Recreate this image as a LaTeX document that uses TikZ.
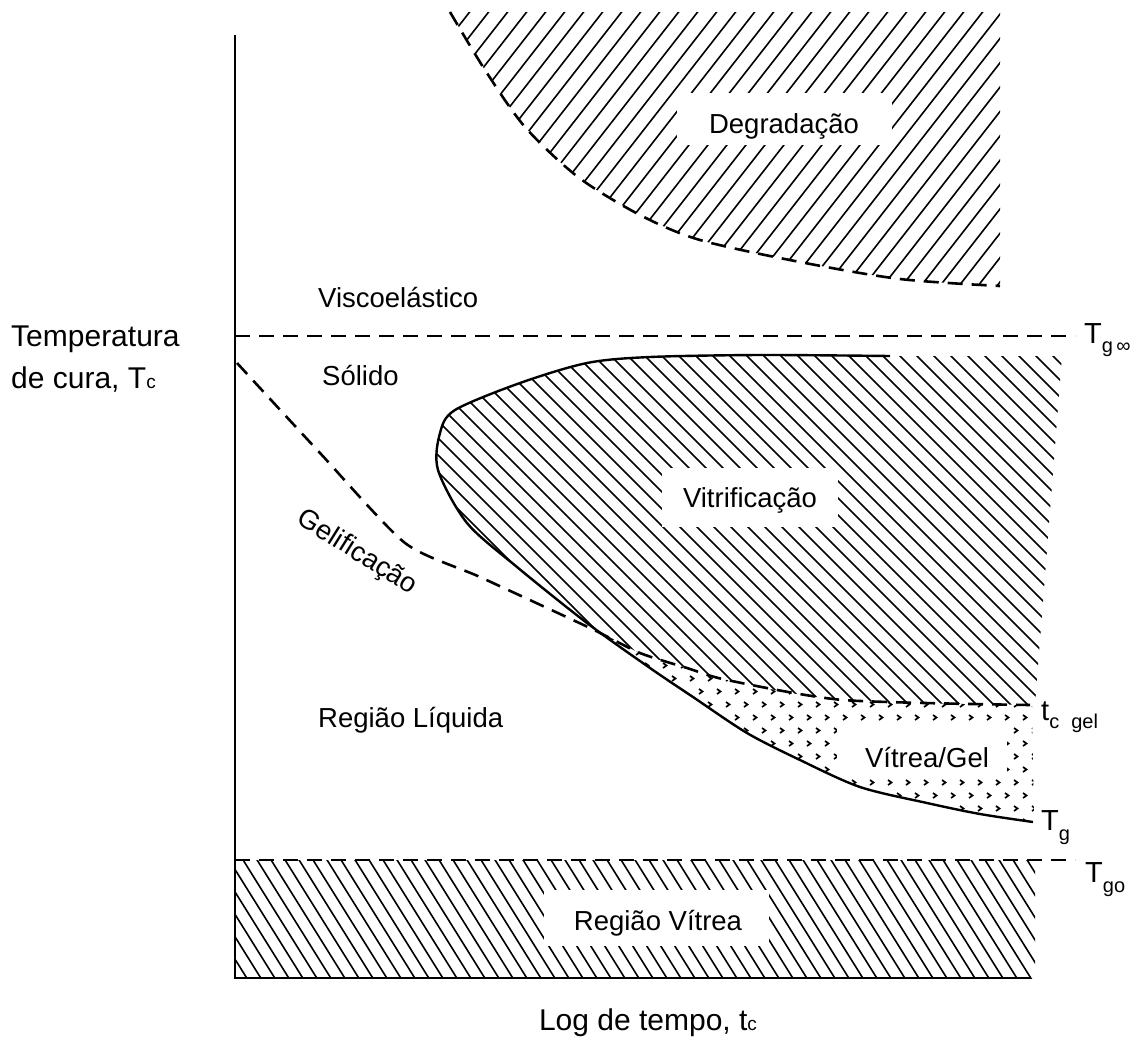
\documentclass[tikz,border=0pt]{standalone}
\usepackage{fontspec}
\setmainfont{Liberation Sans}[Ligatures=NoCommon]
\begin{document}
\begin{tikzpicture}[x=1pt,y=-1pt,
  axisline/.style={line width=2.4pt, line join=miter},
  dashline/.style={line width=2.6pt, dash pattern=on 15pt off 9pt},
  solidcurve/.style={line width=2.4pt, line join=round},
  hatchline/.style={line width=1.6pt},
  gelmark/.style={line width=1.7pt},
  region/.style={font=\fontsize{27.5}{30}\selectfont, inner sep=0pt, anchor=base},
  axislabel/.style={font=\fontsize{30}{34}\selectfont, inner sep=0pt, anchor=base west},
  tlabel/.style={font=\fontsize{29}{32}\selectfont, inner sep=0pt, anchor=base west},
  whitebox/.style={fill=white, draw=none, inner sep=0pt}]
\useasboundingbox (0,0) rectangle (1144,1037);

% ---------- Degradacao hatching
\begin{scope}
\clip plot[smooth] coordinates {(450,12) (485,70) (525,127) (578,177) (640,215) (700,240) (800,262) (900,279) (1000,286)} -- (1000,12) -- cycle;
\foreach \b in {150,169,...,1000} \draw[hatchline] (\b,300) -- ++(234,-300);
\end{scope}

% ---------- Vitrificacao hatching
\begin{scope}
\clip (1062,356) -- plot[smooth,tension=0.5] coordinates {(890,356) (760,355) (650,357) (587,363) (520,383) (455,410) (440,433) (438,470) (467,523) (517,567) (590,626)} -- plot[smooth] coordinates {(590,626) (640,653) (687,668) (727,680) (843,700) (1035,705)} -- cycle;
\foreach \b in {0,17,...,1100} \draw[hatchline] (\b,340) -- ++(400,400);
\end{scope}

% ---------- Vitrea/Gel marks
\begin{scope}
\clip plot[smooth] coordinates {(590,626) (640,653) (687,668) (727,680) (843,700) (1032,705)} -- (1034,822) -- plot[smooth,tension=0.5] coordinates {(1033,822) (980,814) (927,803) (860,787) (800,760) (747,733) (693,697) (650,668) (590,626)} -- cycle;
\foreach \r in {0,...,16} \foreach \c in {0,...,27} {
  \pgfmathsetmacro{\mx}{582+\c*18+mod(\r,2)*9}
  \pgfmathsetmacro{\my}{624+\r*13}
  \draw[gelmark, line join=miter] (\mx,\my) -- ++(3.5,2.5) -- ++(-3.5,2.5);
}
\end{scope}

% ---------- Regiao Vitrea hatching
\begin{scope}
\clip (235,860) rectangle (1035,978);
\foreach \b in {100,114,...,1040} \draw[hatchline] (\b,855) -- ++(78,125);
\end{scope}

% ---------- white boxes
\node[whitebox, minimum width=215pt, minimum height=52pt] (degbox) at (784.5,119) {};
\node[whitebox, minimum width=176pt, minimum height=59pt] (vitbox) at (750,497.5) {};
\node[whitebox, minimum width=170pt, minimum height=55pt] (gelbox) at (922,750.5) {};
\node[whitebox, minimum width=225pt, minimum height=56pt] (rvbox) at (656.5,918) {};

% ---------- lines
\draw[dashline] plot[smooth] coordinates {(450,12) (485,70) (525,127) (578,177) (640,215) (700,240) (800,262) (900,279) (1000,286)};
\draw[axisline] (235,35) -- (235,978) -- (1030,978);
\draw[dashline] (235,336) -- (1075,336);
\draw[dashline] (235,860) -- (1075,860);
\draw[dashline] plot[smooth,tension=0.4] coordinates {(237,363) (320,453) (405,543) (480,577) (590,628) (640,653) (687,668) (727,680) (843,700) (1030,705)};
\draw[solidcurve] plot[smooth,tension=0.5] coordinates {(890,356) (760,355) (650,357) (587,363) (520,383) (455,410) (440,433) (438,470) (467,523) (517,567) (587,623) (650,668) (693,697) (747,733) (800,760) (860,787) (927,803) (980,814) (1033,822)};

% ---------- region labels
\node[region] (deg) at (784,133) {Degradação};
\node[region] (vit) at (750,507) {Vitrificação};
\node[region] (vg) at (927,767) {Vítrea/Gel};
\node[region] (rv) at (658,930) {Região Vítrea};
\node[region, anchor=base west] (visco) at (318,307) {Viscoelástico};
\node[region, anchor=base west] (sol) at (322,385) {Sólido};
\node[region, anchor=base west] (liq) at (318,727) {Região Líquida};
\node[region, rotate=-32, anchor=center] (gelif) at (357,553) {Gelificação};

% ---------- axis labels
\node[axislabel] (tempa) at (11,346) {Temperatura};
\node[axislabel] (tempb) at (11,388) {de cura, T{\fontsize{19}{20}\selectfont c}};
\node[axislabel, anchor=base] (logt) at (648,1030) {Log de tempo, t{\fontsize{19}{20}\selectfont c}};

% ---------- right-hand labels
\node[tlabel] (tginf) at (1084,343) {T\raisebox{-9pt}{\fontsize{20}{22}\selectfont g\,∞}};
\node[tlabel] (tcgel) at (1041,720) {t\raisebox{-8pt}{\fontsize{20}{22}\selectfont c\hspace{12pt}gel}};
\node[tlabel] (tg) at (1041,830) {T\raisebox{-10pt}{\fontsize{20}{22}\selectfont g}};
\node[tlabel] (tgo) at (1085,882) {T\raisebox{-10pt}{\fontsize{20}{22}\selectfont go}};
\end{tikzpicture}
\end{document}
